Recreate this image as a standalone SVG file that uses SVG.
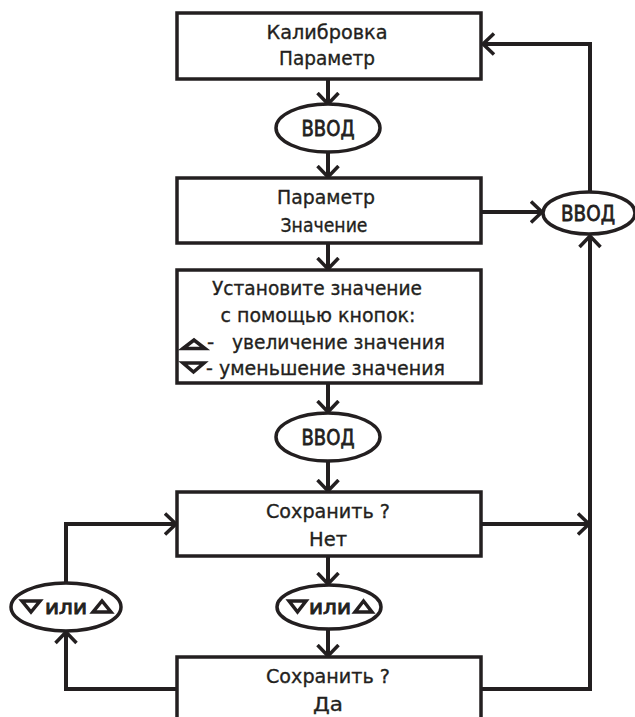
<svg xmlns="http://www.w3.org/2000/svg" width="635" height="717" viewBox="0 0 635 717">
<style>
.box{fill:#fff;stroke:#231f20;stroke-width:3.5}
.ell{fill:#fff;stroke:#231f20;stroke-width:3.5}
.t{font-family:"DejaVu Sans","Liberation Sans",sans-serif;font-size:20px;fill:#231f20;stroke:#231f20;stroke-width:0.35;text-anchor:middle}
.l{text-anchor:start}
.k{font-size:22px;stroke-width:0.8}
.o{font-size:19px;stroke-width:0.9}
.tri{fill:#fff;stroke:#231f20;stroke-width:3.5;stroke-linejoin:miter}
.c{fill:none;stroke:#231f20;stroke-width:4}
</style>
<defs>
<marker id="ar" viewBox="0 0 14 24" markerWidth="14" markerHeight="24" refX="12.5" refY="12" orient="auto" markerUnits="userSpaceOnUse">
<path d="M1.5,1.5 L12.5,12 L1.5,22.5" fill="none" stroke="#231f20" stroke-width="3.5"/>
</marker>
</defs>
<g id="connectors">
<path class="c" d="M328,79 V104" marker-end="url(#ar)"/>
<path class="c" d="M328,153 V177" marker-end="url(#ar)"/>
<path class="c" d="M481,212 H542" marker-end="url(#ar)"/>
<path class="c" d="M590,193 V44 H483" marker-end="url(#ar)"/>
<path class="c" d="M328,243 V269" marker-end="url(#ar)"/>
<path class="c" d="M328,383 V412" marker-end="url(#ar)"/>
<path class="c" d="M328,461 V491" marker-end="url(#ar)"/>
<path class="c" d="M481,524 H589" marker-end="url(#ar)"/>
<path class="c" d="M328,556 V584" marker-end="url(#ar)"/>
<path class="c" d="M328,629 V656" marker-end="url(#ar)"/>
<path class="c" d="M481,689 H590 V236" marker-end="url(#ar)"/>
<path class="c" d="M177,689 H66 V632" stroke-width="5" marker-end="url(#ar)"/>
<path class="c" d="M66,583 V524 H176" marker-end="url(#ar)"/>
</g>
<g id="n1">
<rect class="box" x="177" y="13" width="304" height="66"/>
<text class="t" x="327" y="39" textLength="121" lengthAdjust="spacingAndGlyphs">Калибровка</text>
<text class="t" x="327" y="65" textLength="96" lengthAdjust="spacingAndGlyphs">Параметр</text>
</g>
<g id="e1">
<ellipse class="ell" cx="328" cy="128" rx="52" ry="24"/>
<text class="t k" x="328" y="136" textLength="53" lengthAdjust="spacingAndGlyphs">ВВОД</text>
</g>
<g id="n2">
<rect class="box" x="177" y="178" width="304" height="65"/>
<text class="t" x="326" y="204" textLength="98" lengthAdjust="spacingAndGlyphs">Параметр</text>
<text class="t" x="324" y="232" font-size="18" textLength="87" lengthAdjust="spacingAndGlyphs">Значение</text>
</g>
<g id="e2">
<ellipse class="ell" cx="589" cy="213" rx="46" ry="21"/>
<text class="t k" x="588" y="221" textLength="54" lengthAdjust="spacingAndGlyphs">ВВОД</text>
</g>
<g id="n3">
<rect class="box" x="177" y="270" width="304" height="113"/>
<text class="t" x="317" y="295" textLength="210" lengthAdjust="spacingAndGlyphs">Установите значение</text>
<text class="t" x="318" y="322" textLength="195" lengthAdjust="spacingAndGlyphs">с помощью кнопок:</text>
<polygon class="tri" points="183,348.5 194,340 205,348.5"/>
<text class="t l" x="207" y="349">-</text>
<text class="t l" x="232" y="349" textLength="213" lengthAdjust="spacingAndGlyphs">увеличение значения</text>
<polygon class="tri" points="183,363 204,363 193.5,372"/>
<text class="t l" x="206" y="375" textLength="239" lengthAdjust="spacingAndGlyphs">- уменьшение значения</text>
</g>
<g id="e3">
<ellipse class="ell" cx="328" cy="437" rx="52" ry="24"/>
<text class="t k" x="328" y="445" textLength="53" lengthAdjust="spacingAndGlyphs">ВВОД</text>
</g>
<g id="n4">
<rect class="box" x="177" y="492" width="304" height="64"/>
<text class="t" x="328" y="518" textLength="124" lengthAdjust="spacingAndGlyphs">Сохранить ?</text>
<text class="t" x="328" y="546" textLength="38" lengthAdjust="spacingAndGlyphs">Нет</text>
</g>
<g id="e4">
<ellipse class="ell" cx="329" cy="607" rx="52" ry="22"/>
<polygon class="tri" points="289,601 306,601 297.5,612"/>
<text class="t o" x="330" y="614" textLength="42" lengthAdjust="spacingAndGlyphs">или</text>
<polygon class="tri" points="355,612 372,612 363.5,601"/>
</g>
<g id="e5">
<ellipse class="ell" cx="66" cy="607" rx="55" ry="24"/>
<polygon class="tri" points="22,601 40,601 31,612"/>
<text class="t o" x="66" y="614" textLength="42" lengthAdjust="spacingAndGlyphs">или</text>
<polygon class="tri" points="93,612 111,612 102,601"/>
</g>
<g id="n5">
<rect class="box" x="177" y="657" width="304" height="70"/>
<text class="t" x="328" y="683" textLength="124" lengthAdjust="spacingAndGlyphs">Сохранить ?</text>
<text class="t" x="328" y="711" textLength="30" lengthAdjust="spacingAndGlyphs">Да</text>
</g>
</svg>
